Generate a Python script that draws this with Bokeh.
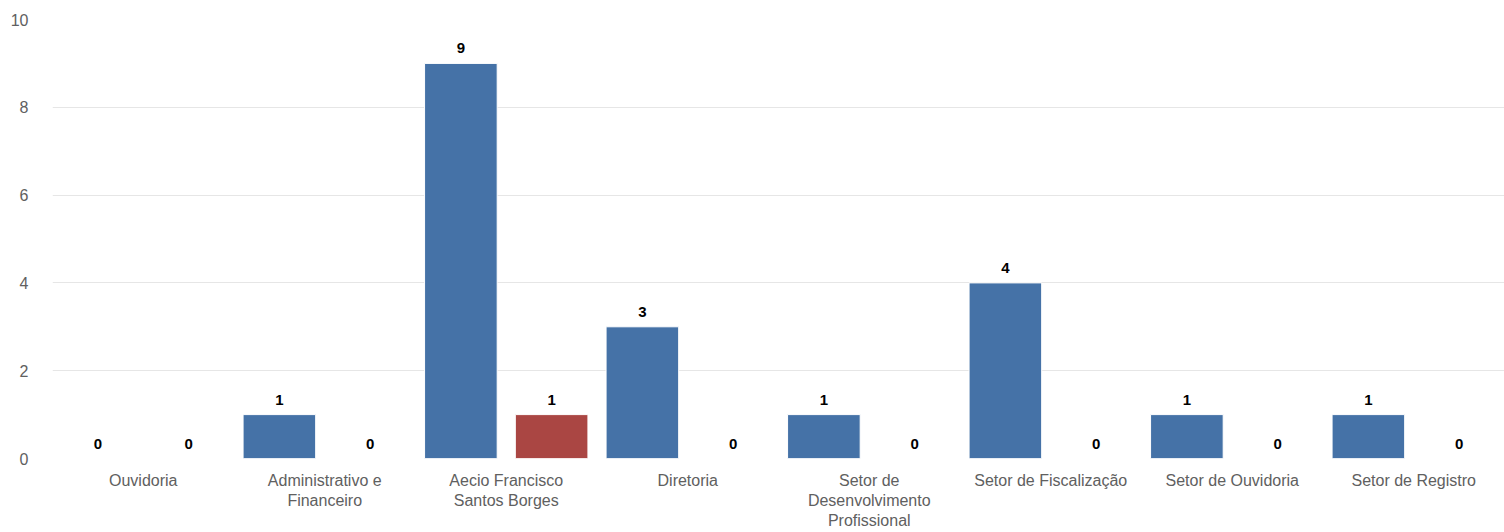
from bokeh.plotting import figure
from bokeh.models import FactorRange, ColumnDataSource, Range1d
from bokeh.transform import dodge
from bokeh.embed import file_html
from bokeh.resources import INLINE
from bokeh.core.properties import value

# Sectors and counts per sector for the two series
categories = [
    "Ouvidoria",
    "Administrativo e\nFinanceiro",
    "Aecio Francisco\nSantos Borges",
    "Diretoria",
    "Setor de\nDesenvolvimento\nProfissional",
    "Setor de Fiscalização",
    "Setor de Ouvidoria",
    "Setor de Registro",
]
series_a = [0, 1, 9, 3, 1, 4, 1, 1]
series_b = [0, 0, 1, 0, 0, 0, 0, 0]
y_ticks = [0, 2, 4, 6, 8, 10]

BLUE = "#4572A7"
RED = "#AA4643"
FONT = "Liberation Sans"

src = ColumnDataSource(dict(
    cat=categories,
    a=series_a,
    b=series_b,
    a_txt=[str(v) for v in series_a],
    b_txt=[str(v) for v in series_b],
))

p = figure(
    width=1504, height=532,
    x_range=FactorRange(factors=categories, range_padding=0),
    y_range=Range1d(0, 10),
    output_backend="svg", toolbar_location=None,
    min_border_left=52, min_border_right=0,
    min_border_top=19, min_border_bottom=0,
)
p.outline_line_color = None
p.background_fill_color = "white"

p.vbar(x=dodge("cat", -0.25, range=p.x_range), top="a", width=0.4,
       source=src, fill_color=BLUE, line_color="white", line_width=1)
p.vbar(x=dodge("cat", 0.25, range=p.x_range), top="b", width=0.4,
       source=src, fill_color=RED, line_color="white", line_width=1)

for col, txt, off in (("a", "a_txt", -0.25), ("b", "b_txt", 0.25)):
    p.text(x=dodge("cat", off, range=p.x_range), y=col, text=txt, source=src,
           text_align="center", text_baseline="bottom", y_offset=-10,
           text_font=value(FONT), text_font_size="15px",
           text_font_style="bold", text_color="#000000")

# y axis: labels only, light horizontal grid
p.yaxis.ticker = y_ticks
p.yaxis.axis_line_color = None
p.yaxis.major_tick_line_color = None
p.yaxis.minor_tick_line_color = None
p.yaxis.major_label_standoff = 18
p.yaxis.major_label_text_font = FONT
p.yaxis.major_label_text_font_size = "16px"
p.yaxis.major_label_text_color = "#606060"
p.ygrid.grid_line_color = "#e6e6e6"
p.ygrid.grid_line_width = 1

# x axis: category names under each group
p.xaxis.axis_line_color = None
p.xaxis.major_tick_line_color = None
p.xaxis.minor_tick_line_color = None
p.xaxis.major_label_standoff = 7
p.xaxis.major_label_text_font = FONT
p.xaxis.major_label_text_font_size = "16px"
p.xaxis.major_label_text_color = "#606060"
p.xgrid.grid_line_color = None

open("out.html", "w").write(file_html(p, INLINE))
